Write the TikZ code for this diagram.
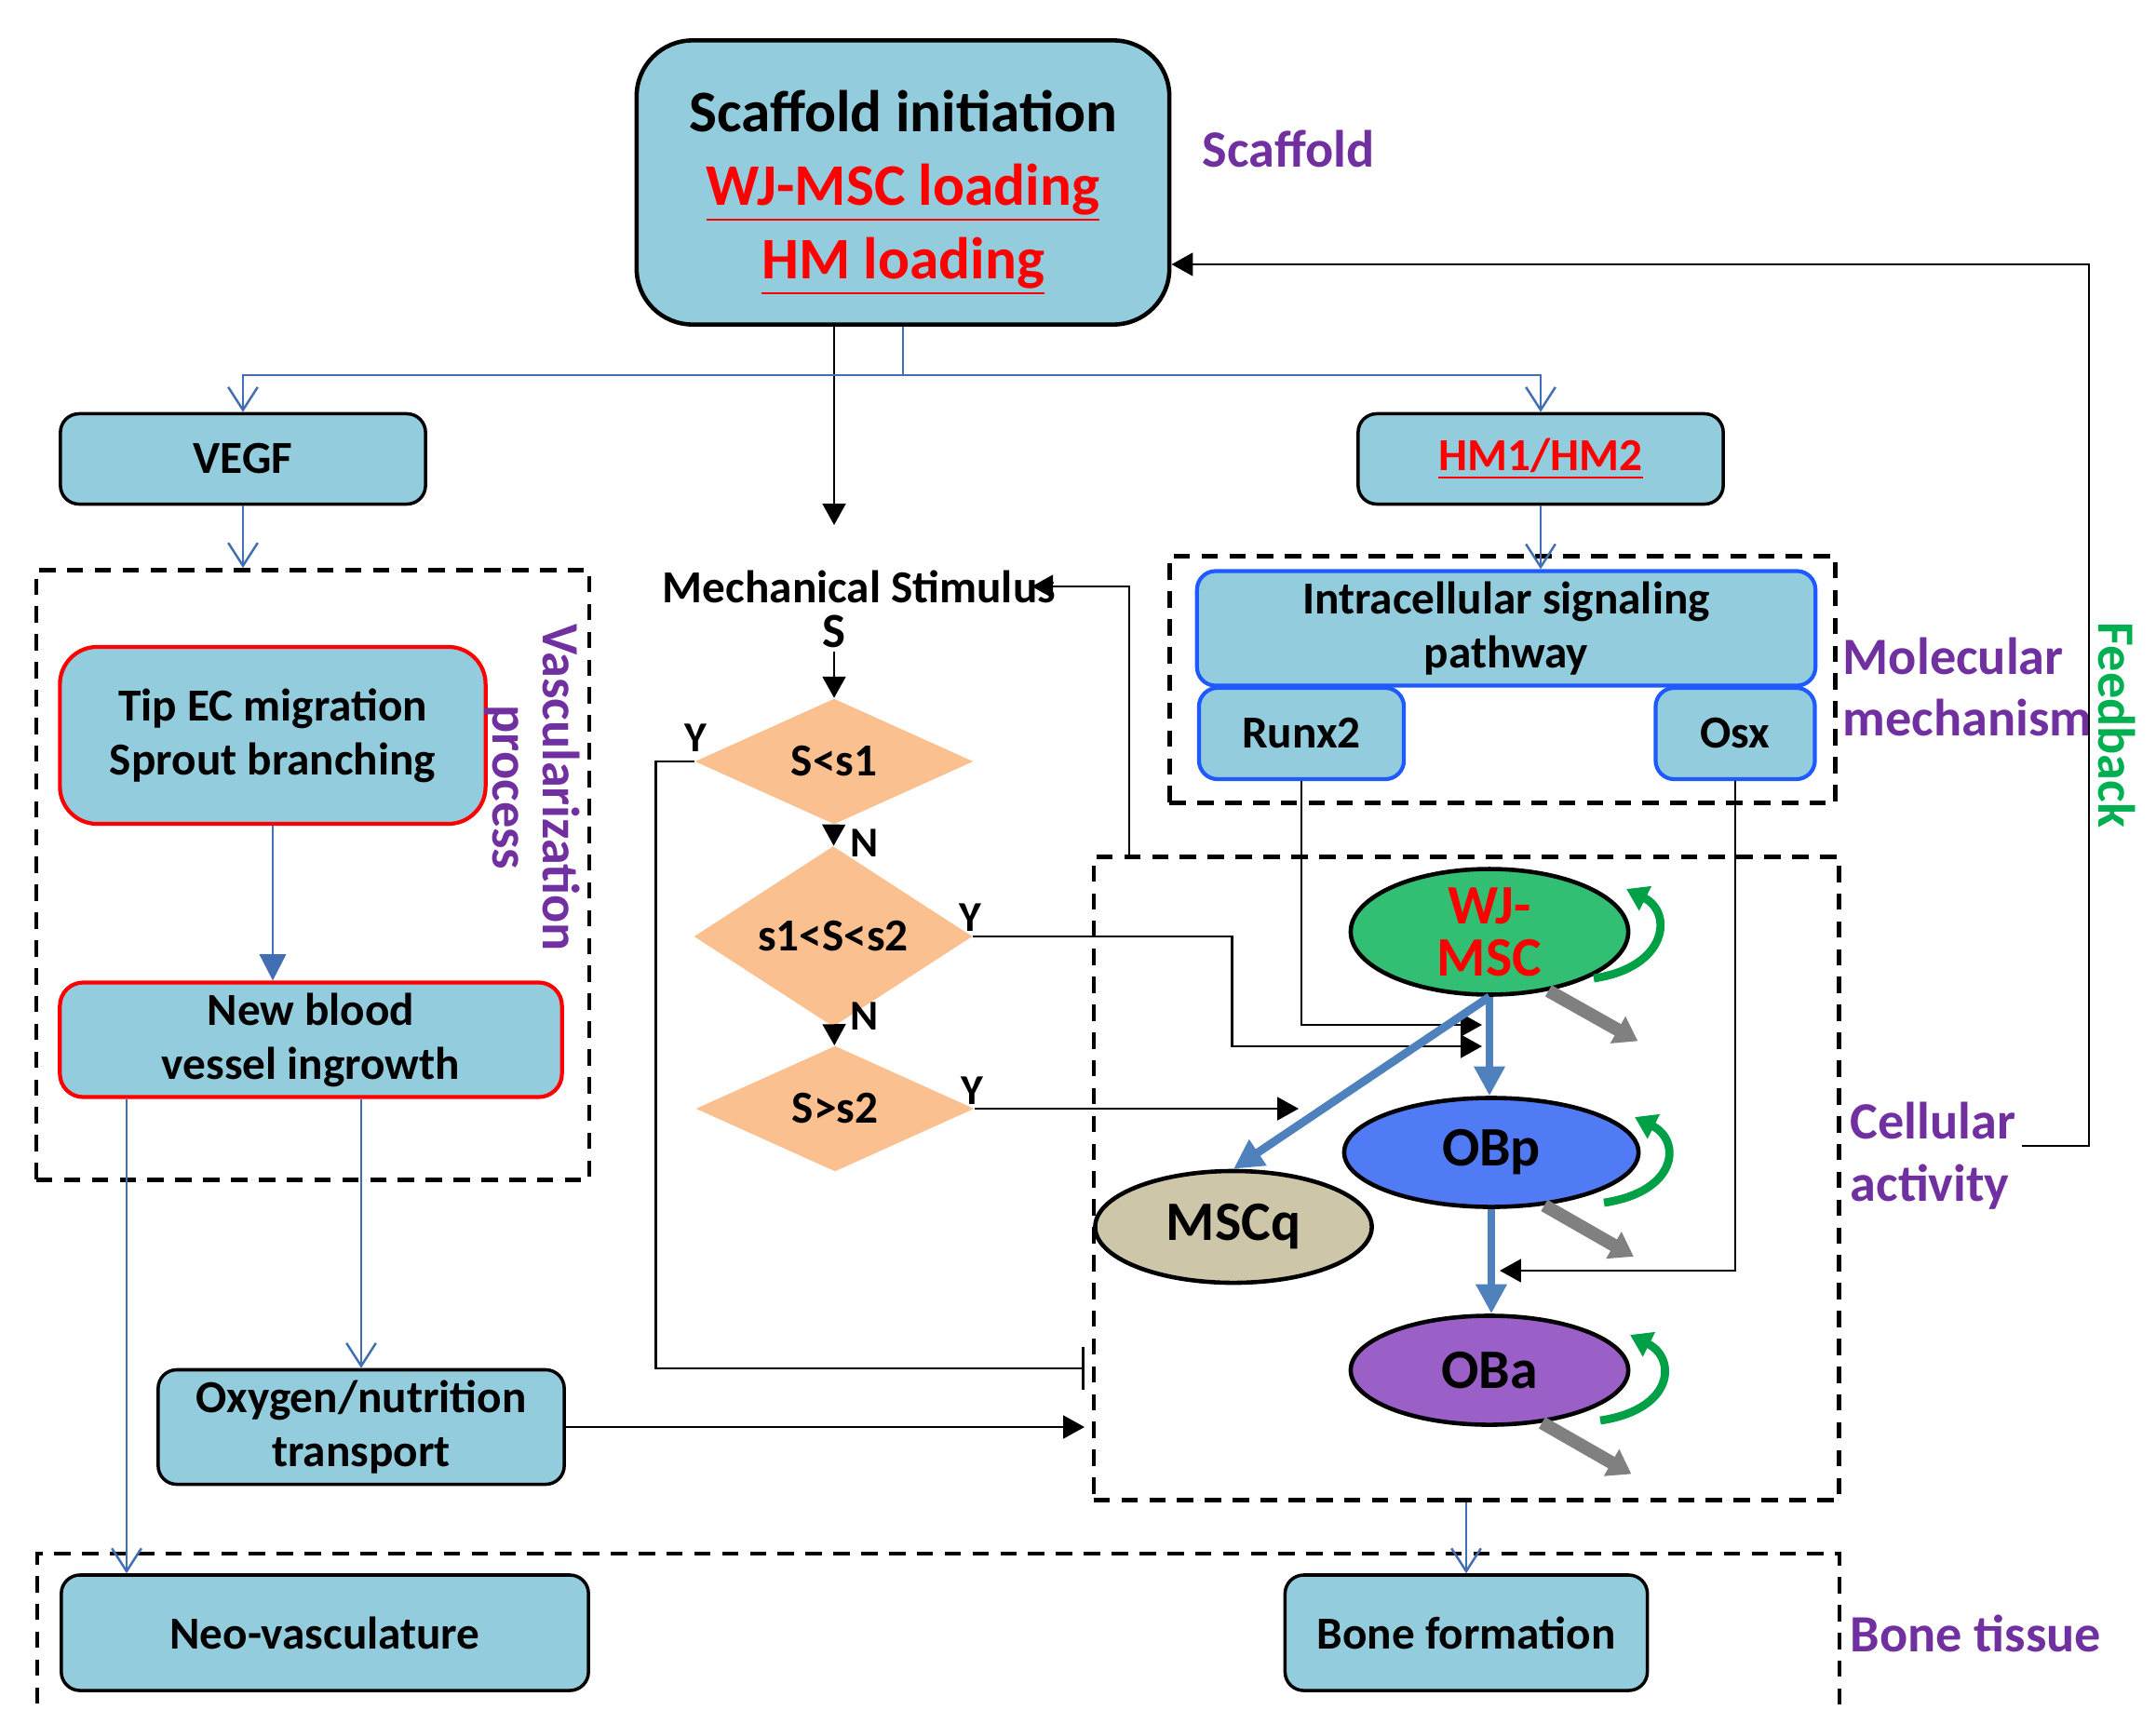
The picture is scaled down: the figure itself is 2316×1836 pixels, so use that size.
\documentclass[tikz,border=0pt]{standalone}
\usepackage{fontspec}
\setmainfont{Carlito}
\usetikzlibrary{shapes.geometric}
\usetikzlibrary{arrows.meta}

\definecolor{boxblue}{RGB}{147,205,221}
\definecolor{linkblue}{RGB}{66,110,180}
\definecolor{diffblue}{RGB}{79,129,189}
\definecolor{sigblue}{RGB}{30,90,255}
\definecolor{tagpurple}{RGB}{112,48,160}
\definecolor{fbgreen}{RGB}{0,176,80}
\definecolor{peach}{RGB}{250,192,144}
\definecolor{wjgreen}{RGB}{50,190,115}
\definecolor{obpblue}{RGB}{80,123,245}
\definecolor{mscqtan}{RGB}{206,198,168}
\definecolor{obapurple}{RGB}{155,95,200}
\definecolor{diegray}{RGB}{128,128,128}
\definecolor{loopgreen}{RGB}{0,160,70}

\newcommand{\redline}[1]{\textcolor{red}{\setlength{\fboxsep}{0pt}\underline{#1}}}

\tikzset{
  cellbox/.style={draw, line width=1pt, fill=boxblue, rounded corners=0.2cm, align=center,
    inner sep=0pt, font=\fontsize{14}{16.5}\selectfont\bfseries},
  redbox/.style={cellbox, draw=red, line width=1.2pt},
  sigbox/.style={cellbox, draw=sigblue, line width=1.2pt},
  zone/.style={draw, line width=1.3pt, dash pattern=on 5pt off 3.5pt, inner sep=0pt},
  test/.style={diamond, fill=peach, inner sep=0pt, minimum width=2.99cm, minimum height=1.35cm,
    font=\fontsize{14}{16}\selectfont\bfseries},
  yn/.style={inner sep=0pt, font=\fontsize{13}{15}\selectfont\bfseries},
  cell/.style={ellipse, draw, line width=1.3pt, inner sep=0pt, align=center,
    font=\fontsize{17}{16}\selectfont\bfseries},
  tag/.style={text=tagpurple, inner sep=0pt, align=left, font=\fontsize{16}{19}\selectfont\bfseries},
  link/.style={draw=linkblue, line width=0.7pt},
  linkto/.style={link, -{Straight Barb[length=7pt,width=9pt]}},
  flow/.style={link, line width=0.8pt, -{Triangle[length=8pt,width=8pt]}},
  ctrl/.style={draw=black, line width=0.8pt, -{Triangle[length=6.5pt,width=7pt]}},
  stop/.style={draw=black, line width=0.8pt, -{Bar[width=13pt]}},
  diff/.style={draw=diffblue, line width=2.5pt, -{Triangle[length=9pt,width=9pt]}},
  die/.style={draw=diegray, line width=4pt, -{Triangle[length=7pt,width=9pt]}},
  renew/.style={draw=loopgreen, line width=2.5pt, -{Triangle[length=6.5pt,width=8pt]}}
}

\begin{document}
\begin{tikzpicture}[x=0.01cm,y=-0.01cm]
    \useasboundingbox (0,0) rectangle (2316,1836);

    % Dashed zones
    \node[zone, minimum width=5.94cm, minimum height=6.55cm] (vasc) at (336,940) {};
    \node[zone, minimum width=7.15cm, minimum height=2.65cm] (molec) at (1614,730) {};
    \node[zone, minimum width=8.00cm, minimum height=6.91cm] (cell) at (1575,1266) {};
    \draw[zone] (40,1860) |- (1976,1669) -- (1976,1860);

    % Scaffold
    \node[cellbox, minimum width=5.72cm, minimum height=3.05cm, rounded corners=0.6cm, line width=1.3pt,
      font=\fontsize{18}{22.4}\selectfont\bfseries] (scaf) at (970,196)
      {\rule{0pt}{19pt}Scaffold initiation\\\redline{WJ-MSC loading}\\\redline{HM loading}};
    \node[cellbox, minimum width=3.92cm, minimum height=0.97cm] (vegf) at (261,493) {VEGF};
    \node[cellbox, minimum width=3.92cm, minimum height=0.97cm] (hm) at (1655,493) {\redline{HM1/HM2}};

    % Vascularization
    \node[redbox, minimum width=4.57cm, minimum height=1.90cm, rounded corners=0.4cm] (tip) at (293,790) {Tip EC migration\\Sprout branching};
    \node[redbox, minimum width=5.39cm, minimum height=1.23cm, rounded corners=0.25cm] (blood) at (334,1117) {New blood\\vessel ingrowth};
    \node[cellbox, minimum width=4.36cm, minimum height=1.23cm] (oxy) at (388,1533) {Oxygen/nutrition\\transport};

    % Bone tissue
    \node[cellbox, minimum width=5.66cm, minimum height=1.24cm] (neo) at (349,1754) {Neo-vasculature};
    \node[cellbox, minimum width=3.89cm, minimum height=1.24cm] (bonef) at (1575,1754) {Bone formation};

    % Signaling
    \node[sigbox, minimum width=6.64cm, minimum height=1.23cm] (sig) at (1618,675) {Intracellular signaling\\pathway};
    \node[sigbox, minimum width=2.20cm, minimum height=0.98cm] (runx) at (1398,788) {Runx2};
    \node[sigbox, minimum width=1.71cm, minimum height=0.98cm] (osx) at (1864,788) {Osx};

    % Stimulus tests
    \node[inner sep=1pt, font=\fontsize{14}{16}\selectfont\bfseries] (mech) at (923,630) {Mechanical Stimulus};
    \node[inner sep=1pt, font=\fontsize{15}{17}\selectfont\bfseries] (S) at (896,678) {S};
    \node[test] (d1) at (896,818) {S<s1};
    \node[test] (d2) at (895,1006) {s1<S<s2};
    \node[test] (d3) at (897,1191) {S>s2};
    \node[yn] (n1) at (929,906) {N};
    \node[yn] (n2) at (929,1092) {N};
    \node[yn] (y1) at (747,793) {Y};
    \node[yn] (y2) at (1042,986) {Y};
    \node[yn] (y3) at (1044,1172) {Y};

    % Cells
    \node[cell, fill=wjgreen, minimum width=2.98cm, minimum height=1.19cm, text=red] (wj) at (1600,1001) {WJ-\\MSC};
    \node[cell, fill=obpblue, minimum width=3.16cm, minimum height=1.17cm] (obp) at (1602,1238) {OBp};
    \node[cell, fill=mscqtan, minimum width=2.97cm, minimum height=1.20cm] (mscq) at (1325,1318) {MSCq};
    \node[cell, fill=obapurple, minimum width=2.98cm, minimum height=1.17cm] (oba) at (1600,1472) {OBa};

    % Labels
    \node[tag] (tscaf) at (1384,160) {Scaffold};
    \node[tag, anchor=west] (tmol) at (1979,738) {Molecular\\mechanism};
    \node[tag, anchor=west] (tcell) at (1987,1242) {Cellular\\activity};
    \node[tag, anchor=west] (tbone) at (1987,1755) {Bone tissue};
    \node[tag, rotate=-90, align=center, font=\fontsize{16}{15.5}\selectfont\bfseries] (tvasc) at (572,846) {Vascularization\\process};
    \node[tag, rotate=-90, text=fbgreen] (tfb) at (2274,779) {Feedback};

    % Scaffold outputs
    \coordinate (split) at (970,403);
    \coordinate (stim) at (896,564);
    \draw[ctrl] (scaf.south -| stim) -- (stim);
    \draw[link] (scaf.south) -- (split);
    \draw[linkto] (split) -| (vegf.north);
    \draw[linkto] (split) -| (hm.north);
    \draw[linkto] (vegf.south) -- (vegf.south |- vasc.north);
    \draw[linkto] (hm.south) -- (hm.south |- sig.north);

    % Vessels
    \coordinate (vneo) at (136,0);
    \coordinate (inh) at (1165,1470);
    \draw[flow] (tip.south) -- (tip.south |- blood.north);
    \draw[linkto] (blood.south -| vneo) -- (neo.north -| vneo);
    \draw[linkto] (blood.south -| oxy.north) -- (oxy.north);
    \draw[ctrl] (oxy.east) -- (oxy.east -| inh);

    % Tests
    \coordinate (mid1) at (1592,1101);
    \coordinate (mid2) at (1592,1124);
    \coordinate (mid3) at (1395,1191);
    \coordinate (mid4) at (1611,1365);
    \draw[ctrl] (S) -- (d1);
    \draw[ctrl] (d1) -- (d2);
    \draw[ctrl] (d2) -- (d3);
    \draw[stop] (d1.west) -- ++(-41,0) |- (inh);
    \draw[ctrl] (d2.east) -- ++(278,0) |- (mid2);
    \draw[ctrl] (d3.east) -- (mid3);
    \draw[ctrl] (runx.south) |- (mid1);
    \draw[ctrl] (osx.south) |- (mid4);

    % Feedback
    \coordinate (fbx) at (1213,0);
    \coordinate (fb2) at (2172,1231);
    \coordinate (fb3) at (2244,284);
    \draw[ctrl] (cell.north -| fbx) |- ([xshift=-0.3cm]mech.east);
    \draw[ctrl] (fb2) -| (fb3) -- (scaf.east |- fb3);
    \draw[linkto] (cell.south) -- (bonef.north);

    % Differentiation
    \draw[diff] (wj.south) -- (wj.south |- obp.north);
    \draw[diff] (wj.south) -- (mscq.north);
    \draw[diff] (obp.south) -- (obp.south |- oba.north);

    % Apoptosis
    \draw[die] (wj.-45) -- ++(96,54);
    \draw[die] (obp.-45) -- ++(96,55);
    \draw[die] (oba.-45) -- ++(96,55);

    % Self-renewal
    \draw[renew] ([shift={(112,50)}]wj.center) .. controls +(80,-12) and +(50,25) .. ([shift={(147,-46)}]wj.center);
    \draw[renew] ([shift={(121,54)}]obp.center) .. controls +(80,-12) and +(50,25) .. ([shift={(154,-38)}]obp.center);
    \draw[renew] ([shift={(119,54)}]oba.center) .. controls +(80,-12) and +(50,25) .. ([shift={(151,-38)}]oba.center);
\end{tikzpicture}
\end{document}
